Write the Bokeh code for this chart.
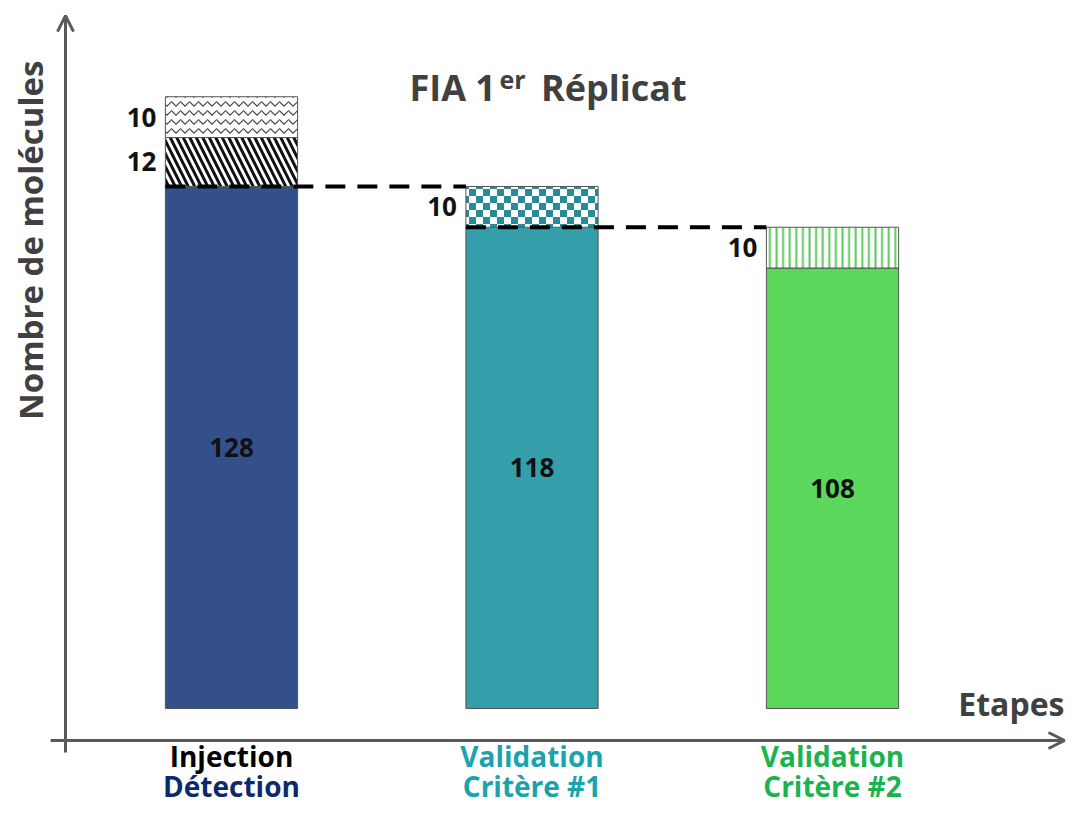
from bokeh.plotting import figure
from bokeh.models import ColumnDataSource, Arrow, OpenHead, ImageURLTexture
from bokeh.core.properties import value
from bokeh.embed import file_html
from bokeh.resources import INLINE
import base64

# ---------------- data ----------------
positions = [0, 1, 2]
label_line1 = ["Injection", "Validation", "Validation"]
label_line2 = ["Détection", "Critère #1", "Critère #2"]
base_values = [128, 118, 108]
seg1_values = [12, 10, 10]
seg2_values = [10, 0, 0]
bar_colors = ["#34508b", "#349fab", "#5bd75b"]
line1_colors = ["#000000", "#1aa3ad", "#1cb34f"]
line2_colors = ["#0c2a6b", "#1aa3ad", "#1cb34f"]
seg1_patterns = ["left_diagonal_line", "checker", "vertical_line"]
seg1_hatch_colors = ["#111111", "#2a8a96", "#5bc75b"]
seg1_hatch_scales = [13, 14, 6.6]
seg1_hatch_weights = [3, 2, 2]
seg2_patterns = ["horizontal_wave", "blank", "blank"]
title_main = "FIA 1"
title_sup = "er"
title_rest = "Réplicat"
ylabel = "Nombre de molécules"
xlabel = "Etapes"

FONT = value("Open Sans")
W, H = 1067, 805
BW = 0.44

p = figure(width=W, height=H, output_backend="svg", toolbar_location=None,
           x_range=(-0.7687, 2.782), y_range=(-23.79, 173.6),
           min_border=0, outline_line_color=None)
p.axis.visible = False
p.grid.visible = False
p.background_fill_color = "white"

checker_svg = ('<svg xmlns="http://www.w3.org/2000/svg" width="14" height="14">'
               '<rect width="14" height="14" fill="white"/>'
               '<rect x="0" y="0" width="7" height="7" fill="#2a8a96"/>'
               '<rect x="7" y="7" width="7" height="7" fill="#2a8a96"/></svg>')
checker_url = "data:image/svg+xml;base64," + base64.b64encode(checker_svg.encode()).decode()

OUT = "#555555"

# base bars
src = ColumnDataSource(dict(x=positions, top=base_values, color=bar_colors,
                            mid=[v / 2 for v in base_values],
                            lab=[str(v) for v in base_values]))
p.vbar(x="x", top="top", bottom=0, width=BW, fill_color="color",
       line_color=OUT, line_width=1, source=src)
p.text(x="x", y="mid", text="lab", source=src, text_font=FONT,
       text_font_style="bold", text_font_size="26px", text_align="center",
       text_baseline="middle", text_color="#111111")

# first hatched segment
s1 = ColumnDataSource(dict(x=positions, bottom=base_values,
                           top=[b + s for b, s in zip(base_values, seg1_values)],
                           pat=seg1_patterns, hc=seg1_hatch_colors,
                           hs=seg1_hatch_scales, hw=seg1_hatch_weights,
                           lx=[x - BW / 2 - 0.03 for x in positions],
                           ly=[b + s / 2 for b, s in zip(base_values, seg1_values)],
                           lab=[str(s) for s in seg1_values]))
p.vbar(x="x", top="top", bottom="bottom", width=BW, fill_color="white",
       line_color=OUT, line_width=1, hatch_pattern="pat", hatch_color="hc",
       hatch_scale="hs", hatch_weight="hw", source=s1,
       hatch_extra={"checker": ImageURLTexture(url=checker_url, repetition="repeat")})
p.text(x="lx", y="ly", text="lab", source=s1, text_font=FONT,
       text_font_style="bold", text_font_size="26px", text_align="right",
       text_baseline="middle", text_color="#111111")

# second hatched segment (only where > 0)
idx = [i for i, v in enumerate(seg2_values) if v > 0]
b2 = [base_values[i] + seg1_values[i] for i in idx]
s2 = ColumnDataSource(dict(x=[positions[i] for i in idx], bottom=b2,
                           top=[b + seg2_values[i] for b, i in zip(b2, idx)],
                           pat=[seg2_patterns[i] for i in idx],
                           lx=[positions[i] - BW / 2 - 0.03 for i in idx],
                           ly=[b + seg2_values[i] / 2 for b, i in zip(b2, idx)],
                           lab=[str(seg2_values[i]) for i in idx]))
p.vbar(x="x", top="top", bottom="bottom", width=BW, fill_color="white",
       line_color=OUT, line_width=1, hatch_pattern="pat", hatch_color="#444444",
       hatch_scale=9, hatch_weight=1.2, source=s2)
p.text(x="lx", y="ly", text="lab", source=s2, text_font=FONT,
       text_font_style="bold", text_font_size="26px", text_align="right",
       text_baseline="middle", text_color="#111111")

# dashed connector lines
for i in range(len(positions) - 1):
    p.line([positions[i] - BW / 2, positions[i + 1] - BW / 2],
           [base_values[i], base_values[i]], line_color="black",
           line_width=4, line_dash="20 12")

# axes as arrows
ax_y = -7.85
ax_x = -0.5524
p.add_layout(Arrow(end=OpenHead(size=16, line_color="#5a5a5a", line_width=3),
                   x_start=ax_x, y_start=-10.8, x_end=ax_x, y_end=169.9,
                   line_color="#5a5a5a", line_width=3))
p.add_layout(Arrow(end=OpenHead(size=16, line_color="#5a5a5a", line_width=3),
                   x_start=-0.602, y_start=ax_y, x_end=2.772, y_end=ax_y,
                   line_color="#5a5a5a", line_width=3))

# category labels
cl = ColumnDataSource(dict(x=positions, l1=label_line1, l2=label_line2,
                           c1=line1_colors, c2=line2_colors))
p.text(x="x", y=-11.53, text="l1", text_color="c1", source=cl, text_font=FONT,
       text_font_style="bold", text_font_size="28px", text_align="center",
       text_baseline="middle")
p.text(x="x", y=-19.0, text="l2", text_color="c2", source=cl, text_font=FONT,
       text_font_style="bold", text_font_size="28px", text_align="center",
       text_baseline="middle")

# title
p.text(x=[0.88], y=[152.3], text=[title_main], text_font=FONT, text_font_style="bold",
       text_font_size="36px", text_align="right", text_baseline="middle",
       text_color="#404040")
p.text(x=[0.892], y=[154.4], text=[title_sup], text_font=FONT, text_font_style="bold",
       text_font_size="25px", text_align="left", text_baseline="middle",
       text_color="#404040")
p.text(x=[1.03], y=[152.3], text=[title_rest], text_font=FONT, text_font_style="bold",
       text_font_size="36px", text_align="left", text_baseline="middle",
       text_color="#404040")

# axis labels
p.text(x=[-0.669], y=[114.8], text=[ylabel], angle=1.5708, text_font=FONT,
       text_font_style="bold", text_font_size="33px", text_align="center",
       text_baseline="middle", text_color="#404040")
p.text(x=[2.772], y=[1.23], text=[xlabel], text_font=FONT, text_font_style="bold",
       text_font_size="32px", text_align="right", text_baseline="middle",
       text_color="#404040")

open("out.html", "w").write(file_html(p, INLINE))
